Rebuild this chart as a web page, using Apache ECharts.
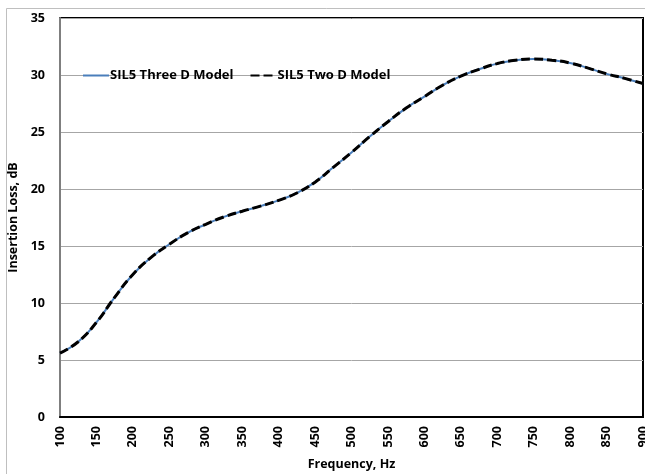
<!DOCTYPE html>
<html>
<head>
<meta charset="utf-8">
<script src="https://cdn.jsdelivr.net/npm/echarts@6/dist/echarts.min.js"></script>
<style>html,body{margin:0;padding:0;background:#fff}#c{width:645px;height:474px}</style>
</head>
<body>
<div id="c"></div>
<script>
var freq = [100,125,150,175,200,225,250,275,300,325,350,375,400,425,450,475,500,525,550,575,600,625,650,675,700,725,750,775,800,825,850,875,900];
var threeD = [5.6,6.6,8.3,10.5,12.5,14.0,15.15,16.15,16.9,17.55,18.05,18.5,19.0,19.65,20.6,21.9,23.2,24.6,25.9,27.1,28.1,29.1,29.9,30.5,31.0,31.3,31.4,31.3,31.05,30.6,30.1,29.7,29.25];
var twoD = [5.6,6.6,8.3,10.5,12.5,14.0,15.15,16.15,16.9,17.55,18.05,18.5,19.0,19.65,20.6,21.9,23.2,24.6,25.9,27.1,28.1,29.1,29.9,30.5,31.0,31.3,31.4,31.3,31.05,30.6,30.1,29.7,29.25];
var seriesNames = ['SIL5 Three D Model','SIL5 Two D Model'];

function pairs(xs, ys){ return xs.map(function(x,i){ return [x, ys[i]]; }); }

var font = '"Open Sans", "Liberation Sans", Arial, sans-serif';
var chart = echarts.init(document.getElementById('c'));
chart.setOption({
  animation: false,
  graphic: [{type:'rect', shape:{x:6.5,y:8.5,width:700,height:500}, style:{fill:'none', stroke:'#bfbfbf', lineWidth:1}, z:-10}],
  grid: {left:60, right:2, top:18, bottom:57, outerBoundsMode:'none', containLabel:false, show:true, borderColor:'#000', borderWidth:2, backgroundColor:'#fff'},
  legend: {
    left: 82, top: 69, padding: 0, itemWidth: 26, itemHeight: 12, itemGap: 16,
    itemStyle: {opacity: 0},
    textStyle: {fontFamily: font, fontWeight:'bold', fontSize: 13, color:'#000', padding:[0,0,0,-4]},
    data: seriesNames
  },
  xAxis: {
    type:'value', min:100, max:900, interval:50,
    name:'Frequency, Hz', nameLocation:'middle', nameGap:41,
    nameTextStyle:{fontFamily:font, fontWeight:'bold', fontSize:12.5, color:'#000'},
    axisLine:{show:true, lineStyle:{color:'#000', width:2}},
    axisTick:{show:false},
    splitLine:{show:false},
    axisLabel:{rotate:90, fontFamily:font, fontWeight:'bold', fontSize:12.5, color:'#000', margin:9}
  },
  yAxis: {
    type:'value', min:0, max:35, interval:5,
    name:'Insertion Loss, dB', nameLocation:'middle', nameGap:35,
    nameTextStyle:{fontFamily:font, fontWeight:'bold', fontSize:12.5, color:'#000'},
    axisLine:{show:true, lineStyle:{color:'#7f7f7f', width:2}},
    axisTick:{show:false},
    splitLine:{show:true, lineStyle:{color:'#a6a6a6', width:1}},
    axisLabel:{fontFamily:font, fontWeight:'bold', fontSize:12.5, color:'#000', margin:15}
  },
  series: [
    {name:seriesNames[0], type:'line', data:pairs(freq, threeD), smooth:0.5, symbol:'none', showSymbol:false,
     lineStyle:{color:'#4a7ebb', width:2}, itemStyle:{color:'#4a7ebb'}, z:2},
    {name:seriesNames[1], type:'line', data:pairs(freq, twoD), smooth:0.5, symbol:'none', showSymbol:false,
     lineStyle:{color:'#000', width:3, type:[9,4]}, itemStyle:{color:'#000'}, z:3}
  ]
});
</script>
</body>
</html>
